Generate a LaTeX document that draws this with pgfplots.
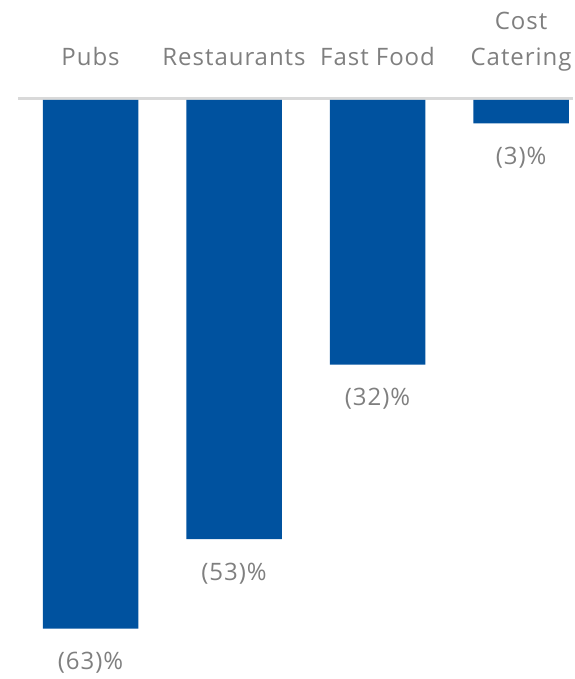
\documentclass[border=0pt]{standalone}
\usepackage{fontspec}
\setmainfont[LetterSpace=4]{Open Sans}
\usepackage{pgfplots}
\pgfplotsset{compat=1.18}
\definecolor{barblue}{HTML}{00529F}
\definecolor{txtgray}{HTML}{7F7F7F}
\definecolor{linegray}{HTML}{D9D9D9}
\tikzset{lbl/.style={font=\fontsize{24bp}{30bp}\selectfont, text=txtgray, inner sep=0pt}}
\begin{document}
\begin{tikzpicture}
\begin{axis}[
  scale only axis,
  width=573bp, height=679bp,
  xmin=-0.631, xmax=3.362,
  ymin=-69.34, ymax=11.976,
  axis line style={draw=none},
  xtick=\empty, ytick=\empty,
  clip=false,
  ybar, bar width=0.665,
]
\draw[linegray, line width=3bp] (axis cs:-0.505,0.18) -- (axis cs:3.362,0.18);
\addplot[fill=barblue, draw=none] coordinates {(0,-63.3) (1,-52.6) (2,-31.7) (3,-2.8)};
\node[lbl, anchor=center, yshift=-34bp] at (axis cs:0,-63.3) {(63)\%};
\node[lbl, anchor=center, yshift=-34bp] at (axis cs:1,-52.6) {(53)\%};
\node[lbl, anchor=center, yshift=-34bp] at (axis cs:2,-31.7) {(32)\%};
\node[lbl, anchor=center, yshift=-34bp] at (axis cs:3,-2.8) {(3)\%};
\node[lbl, anchor=base] at (axis cs:0,4.11) {Pubs};
\node[lbl, anchor=base] at (axis cs:1,4.11) {Restaurants};
\node[lbl, anchor=base] at (axis cs:2,4.11) {Fast Food};
\node[lbl, anchor=base] at (axis cs:3,4.11) {Catering};
\node[lbl, anchor=base] at (axis cs:3,8.50) {Cost};
\end{axis}
\end{tikzpicture}
\end{document}
